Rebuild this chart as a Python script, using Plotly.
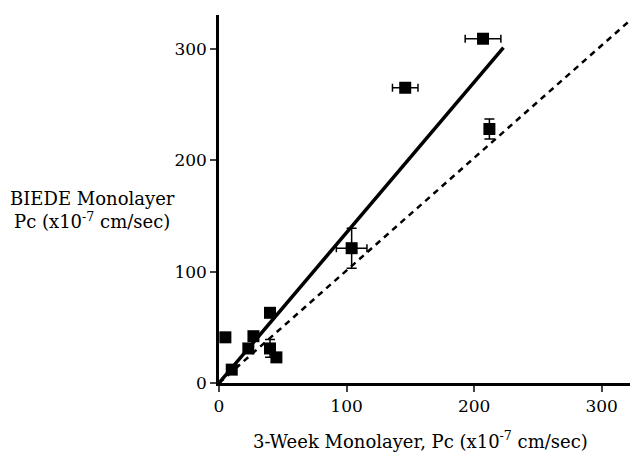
import plotly.graph_objects as go

# Data
x_vals = [5, 10, 23, 27, 40, 40, 45, 104, 146, 207, 212]
y_vals = [41, 12, 31, 42, 63, 31, 23, 121, 265, 309, 228]
x_err = [0, 0, 0, 0, 0, 0, 0, 12, 10, 14, 0]
y_err = [0, 0, 0, 0, 0, 8, 0, 18, 0, 0, 9]

solid_fit = {"slope": 1.35, "x_end": 223}
dashed_fit = {"slope": 1.01, "x_end": 330}

x_ticks = [0, 100, 200, 300]
y_ticks = [0, 100, 200, 300]

FONT = "DejaVu Serif"

fig = go.Figure()

fig.add_trace(go.Scatter(
    x=[0, dashed_fit["x_end"]],
    y=[0, dashed_fit["slope"] * dashed_fit["x_end"]],
    mode="lines", line=dict(color="black", width=2.5, dash="6px,5px"),
    hoverinfo="skip", showlegend=False))

fig.add_trace(go.Scatter(
    x=[0, solid_fit["x_end"]],
    y=[0, solid_fit["slope"] * solid_fit["x_end"]],
    mode="lines", line=dict(color="black", width=3.5),
    hoverinfo="skip", showlegend=False))

fig.add_trace(go.Scatter(
    x=x_vals, y=y_vals, mode="markers",
    marker=dict(symbol="square", size=12, color="black"),
    error_x=dict(type="data", array=x_err, visible=True, color="black", thickness=1.5, width=4),
    error_y=dict(type="data", array=y_err, visible=True, color="black", thickness=1.5, width=5),
    showlegend=False, cliponaxis=False))

# The page body has an 8px margin; the figure is sized to fit the 638x453 window.
fig.update_layout(
    width=630, height=445,
    margin=dict(l=211, r=0, t=7, b=70),
    plot_bgcolor="white", paper_bgcolor="white",
    font=dict(family=FONT, size=17, color="black"),
    showlegend=False,
)
fig.update_xaxes(
    range=[0, 328.5], tickvals=x_ticks, ticks="outside", ticklen=6, tickwidth=2,
    showline=True, linewidth=2.5, linecolor="black", showgrid=False, zeroline=False,
    tickfont=dict(family=FONT, size=17))
fig.update_yaxes(
    range=[0, 330.3], tickvals=y_ticks, ticks="outside", ticklen=6, tickwidth=2,
    showline=True, linewidth=2.5, linecolor="black", showgrid=False, zeroline=False,
    tickfont=dict(family=FONT, size=17))

fig.add_annotation(
    text="3-Week Monolayer, Pc (x10<sup>-7</sup> cm/sec)",
    xref="paper", yref="paper", x=0.482, y=-0.155, showarrow=False,
    font=dict(family=FONT, size=18), xanchor="center", yanchor="middle")
fig.add_annotation(
    text="BIEDE Monolayer<br>Pc (x10<sup>-7</sup> cm/sec)",
    xref="paper", yref="paper", x=-0.302, y=0.469, showarrow=False,
    font=dict(family=FONT, size=18), xanchor="center", yanchor="middle", align="center")

fig.write_html("out.html")
